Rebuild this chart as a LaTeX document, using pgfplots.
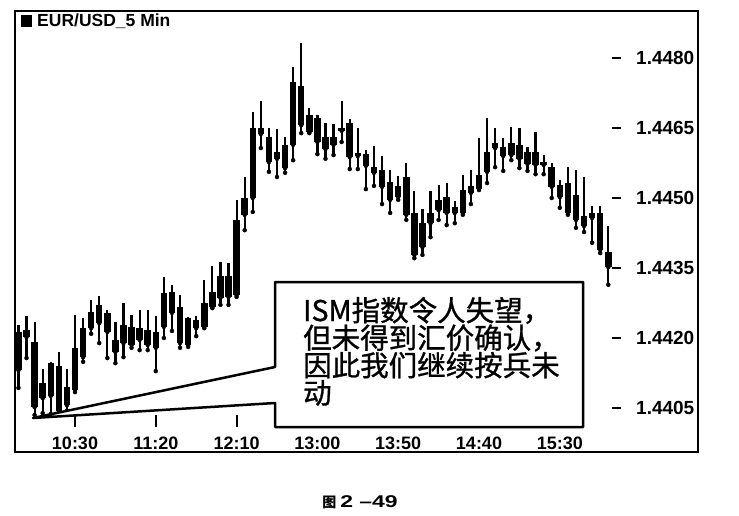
\documentclass[border=0pt]{standalone}
\usepackage{pgfplots}
\pgfplotsset{compat=1.18}
\usepackage{pgfplotstable}
\usepackage{graphicx}
\usepackage{fontspec}
\setmainfont{Liberation Sans}
\newfontfamily\cjk{Noto Sans CJK SC}
\newfontfamily\cjkh[FakeBold=1]{Noto Sans CJK SC}

% EUR/USD 5 min candles: t = bar index (0 = 10:30), body top/bottom and wick ends
\pgfplotstableread{
t hi bhi blo lo
-7 1.44228 1.44213 1.44131 1.44093
-6 1.44247 1.44217 1.44202 1.44157
-5 1.44234 1.44191 1.44052 1.44035
-4 1.44134 1.44104 1.44071 1.44039
-3 1.44149 1.44146 1.44076 1.44037
-2 1.44170 1.44140 1.44044 1.44037
-1 1.44134 1.44095 1.44056 1.44044
0 1.44249 1.44179 1.44089 1.44084
1 1.44243 1.44221 1.44159 1.44149
2 1.44281 1.44256 1.44221 1.44209
3 1.44290 1.44271 1.44232 1.44189
4 1.44260 1.44254 1.44213 1.44157
5 1.44234 1.44196 1.44170 1.44146
6 1.44275 1.44228 1.44189 1.44159
7 1.44249 1.44224 1.44185 1.44179
8 1.44260 1.44221 1.44196 1.44174
9 1.44260 1.44217 1.44185 1.44174
10 1.44247 1.44213 1.44179 1.44129
11 1.44331 1.44296 1.44224 1.44200
12 1.44314 1.44299 1.44254 1.44215
13 1.44292 1.44266 1.44189 1.44179
14 1.44245 1.44243 1.44185 1.44181
15 1.44247 1.44239 1.44221 1.44204
16 1.44324 1.44275 1.44224 1.44221
17 1.44354 1.44299 1.44266 1.44264
18 1.44363 1.44333 1.44286 1.44271
19 1.44361 1.44333 1.44288 1.44271
20 1.44496 1.44453 1.44292 1.44288
21 1.44545 1.44500 1.44464 1.44431
22 1.44684 1.44650 1.44500 1.44470
23 1.44708 1.44650 1.44637 1.44607
24 1.44650 1.44631 1.44577 1.44556
25 1.44648 1.44599 1.44584 1.44545
26 1.44631 1.44614 1.44564 1.44554
27 1.44781 1.44749 1.44614 1.44581
28 1.44832 1.44740 1.44656 1.44639
29 1.44693 1.44678 1.44641 1.44639
30 1.44678 1.44671 1.44620 1.44594
31 1.44661 1.44631 1.44605 1.44584
32 1.44659 1.44631 1.44614 1.44592
33 1.44708 1.44650 1.44644 1.44620
34 1.44669 1.44661 1.44588 1.44562
35 1.44650 1.44596 1.44590 1.44562
36 1.44603 1.44594 1.44569 1.44519
37 1.44611 1.44566 1.44554 1.44526
38 1.44590 1.44560 1.44524 1.44487
39 1.44560 1.44534 1.44496 1.44468
40 1.44547 1.44526 1.44502 1.44496
41 1.44575 1.44545 1.44464 1.44453
42 1.44515 1.44468 1.44378 1.44371
43 1.44476 1.44446 1.44395 1.44378
44 1.44515 1.44468 1.44446 1.44416
45 1.44528 1.44496 1.44474 1.44453
46 1.44532 1.44502 1.44468 1.44442
47 1.44494 1.44481 1.44468 1.44446
48 1.44549 1.44517 1.44468 1.44464
49 1.44560 1.44526 1.44511 1.44487
50 1.44629 1.44549 1.44519 1.44517
51 1.44671 1.44599 1.44556 1.44532
52 1.44650 1.44618 1.44607 1.44566
53 1.44629 1.44609 1.44590 1.44558
54 1.44652 1.44618 1.44592 1.44581
55 1.44650 1.44614 1.44584 1.44564
56 1.44609 1.44599 1.44573 1.44558
57 1.44641 1.44599 1.44571 1.44551
58 1.44592 1.44577 1.44571 1.44551
59 1.44575 1.44566 1.44524 1.44500
60 1.44539 1.44528 1.44502 1.44479
61 1.44566 1.44532 1.44468 1.44464
62 1.44560 1.44506 1.44453 1.44436
63 1.44545 1.44461 1.44440 1.44427
64 1.44483 1.44468 1.44457 1.44404
65 1.44483 1.44468 1.44389 1.44382
66 1.44440 1.44384 1.44352 1.44314
}\candles

\newcommand\ytl[1]{\rule[5.5pt]{9pt}{2.4pt}\hspace{15pt}#1}

\begin{document}
\begin{tikzpicture}
\path[use as bounding box] (0pt,0pt) rectangle (739pt,-516pt);
\begin{axis}[
  at={(15pt,-11pt)}, anchor=north west,
  scale only axis, width=597pt, height=416pt,
  xmin=-7.426, xmax=66.46,
  ymin=1.440093, ymax=1.449007,
  clip=false,
  axis line style={draw=none},
  tick align=inside, major tick length=12pt,
  xtick={0,10,...,60},
  xticklabels={10:30,11:20,12:10,13:00,13:50,14:40,15:30},
  xtick pos=bottom,
  xtick style={draw=black, line width=2pt},
  ytick={1.4405,1.4420,1.4435,1.4450,1.4465,1.4480},
  yticklabels={\ytl{1.4405},\ytl{1.4420},\ytl{1.4435},\ytl{1.4450},\ytl{1.4465},\ytl{1.4480}},
  yticklabel pos=right,
  ytick style={draw=none},
  ticklabel style={inner sep=0pt},
  xticklabel style={anchor=north, yshift=-10pt, font=\bfseries\fontsize{18}{20}\selectfont},
  yticklabel style={anchor=west, font=\bfseries\fontsize{19}{20}\selectfont},
]
% wicks
\addplot[black, only marks, mark=none,
  error bars/.cd, y dir=plus, y explicit, error mark=none,
  error bar style={line width=2.2pt}]
  table[x=t, y=lo, y error plus expr=\thisrow{hi}-\thisrow{lo}] {\candles};
% bodies
\addplot[black, only marks, mark=none,
  error bars/.cd, y dir=plus, y explicit, error mark=none,
  error bar style={line width=6.5pt}]
  table[x=t, y=blo, y error plus expr=\thisrow{bhi}-\thisrow{blo}] {\candles};
\end{axis}

% chart frame and title
\draw[line width=2pt] (15pt,-11pt) rectangle (698pt,-452pt);
\fill (21pt,-15pt) rectangle (32pt,-27pt);
\node[anchor=base west, inner sep=0pt, font=\bfseries\fontsize{17.5}{20}\selectfont]
  at (37pt,-27pt) {EUR/USD\_5 Min};

% callout
\draw[line width=2.5pt, fill=white, line join=round]
  (275pt,-282pt) -- (583pt,-282pt) -- (583pt,-427pt) -- (275pt,-427pt)
  -- (275pt,-403pt) -- (33pt,-418pt) -- (275pt,-367pt) -- cycle;
\begin{scope}[every node/.style={anchor=base west, inner sep=0pt,
    font=\cjkh\fontsize{28.5}{28}\selectfont}]
\node at (303pt,-321pt) {ISM指数令人失望，};
\node at (303pt,-348.5pt) {但未得到汇价确认，};
\node at (303pt,-376pt) {因此我们继续按兵未};
\node at (303pt,-403.5pt) {动};
\end{scope}

% figure caption
\node[anchor=base, inner sep=0pt]
  at (360pt,-507pt) {{\cjk\bfseries\fontsize{14}{16}\selectfont 图}\hspace{4pt}%
  \scalebox{1.35}[1]{\bfseries\fontsize{17}{20}\selectfont 2 –49}};
\end{tikzpicture}
\end{document}
